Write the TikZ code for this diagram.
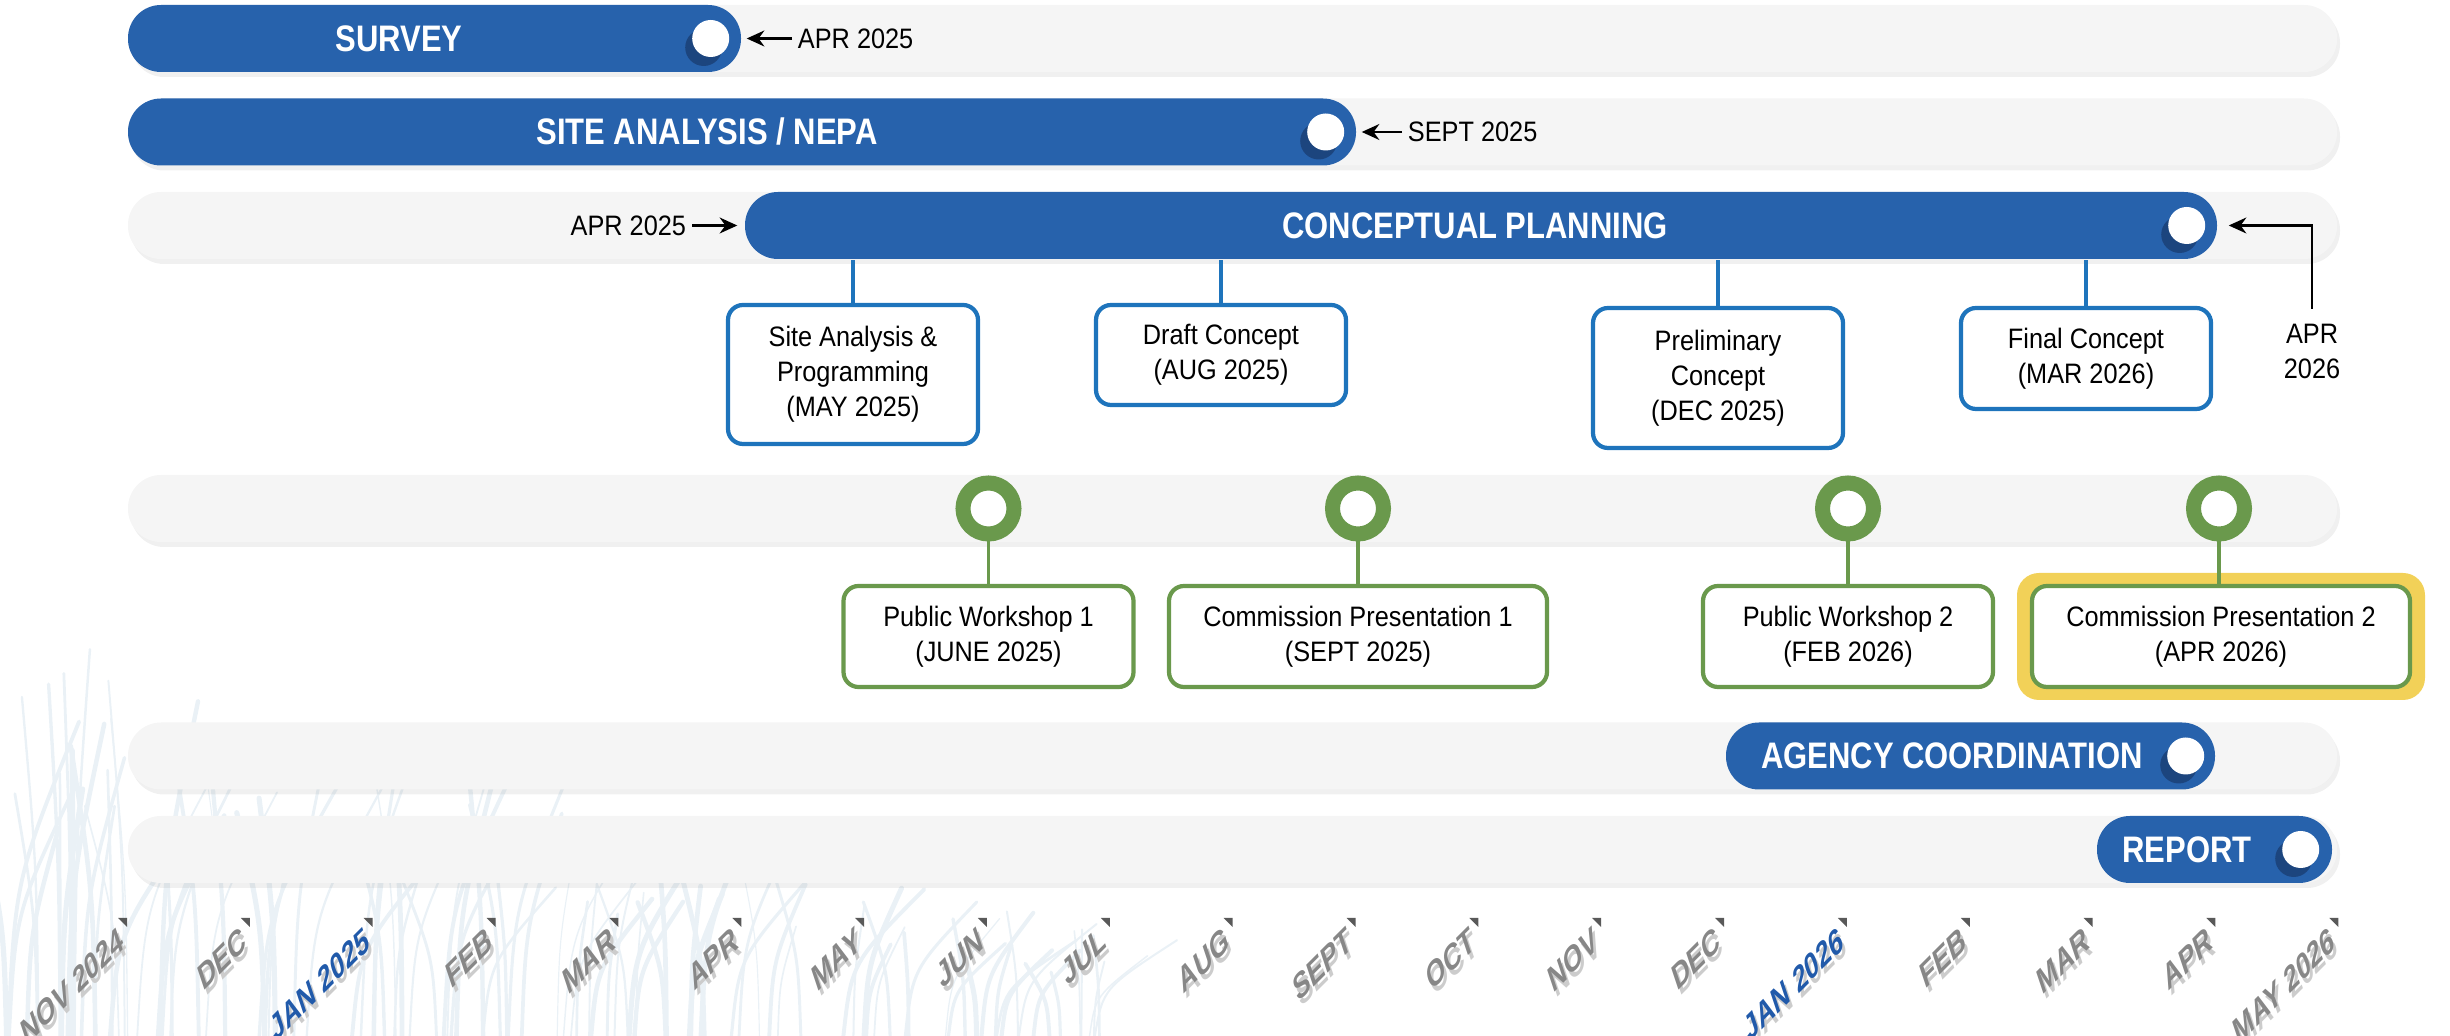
\documentclass[tikz,border=0pt]{standalone}
\usepackage{fontspec}
\setmainfont{Liberation Sans}[FakeStretch=0.9]
\newfontfamily\barfont{Liberation Sans}[FakeStretch=0.84]
\newfontfamily\monthfont{Liberation Sans}
\usetikzlibrary{shapes, positioning, arrows.meta, calc, shadows}

\definecolor{barblue}{RGB}{39,98,172}
\definecolor{deepblue}{RGB}{27,66,122}
\definecolor{boxblue}{RGB}{30,116,188}
\definecolor{trackgray}{RGB}{245,245,245}
\definecolor{msgreen}{RGB}{106,153,76}
\definecolor{hiyellow}{RGB}{242,209,88}
\definecolor{monthgray}{RGB}{135,135,135}
\definecolor{janblue}{RGB}{33,90,170}
\definecolor{brush}{RGB}{234,241,246}

\begin{document}
\begin{tikzpicture}[
    > = {Stealth[length=5pt, width=4.5pt]},
    track/.style = {rectangle, rounded corners=0.33cm, minimum width=22.09cm, minimum height=0.67cm, inner sep=0pt, fill=trackgray, drop shadow={shadow xshift=0.03cm, shadow yshift=-0.05cm, opacity=0.12}},
    bar/.style = {rectangle, rounded corners=0.33cm, minimum height=0.67cm, inner sep=0pt, fill=barblue},
    barlabel/.style = {text=white, font=\barfont\bfseries\fontsize{10.5}{12}\selectfont},
    knob/.style = {circle, fill=white, minimum size=0.37cm, inner sep=0pt, drop shadow={shadow xshift=-0.07cm, shadow yshift=-0.09cm, fill=deepblue, opacity=0.9}},
    datelabel/.style = {font=\fontsize{8}{10}\selectfont, inner sep=1.5pt, align=center},
    datearrow/.style = {->, line width=0.8pt, shorten >=0.05cm},
    bbox/.style = {rectangle, rounded corners=0.15cm, draw=boxblue, line width=1.2pt, fill=white, minimum width=2.5cm, align=center, font=\fontsize{8}{10}\selectfont},
    gbox/.style = {bbox, draw=msgreen, minimum height=1.01cm},
    bconn/.style = {boxblue, line width=1.1pt},
    gconn/.style = {msgreen, line width=1.1pt},
    ring/.style = {circle, draw=msgreen, line width=0.15cm, fill=white, minimum size=0.51cm, inner sep=0pt},
    hilite/.style = {rectangle, rounded corners=0.22cm, fill=hiyellow, minimum width=4.08cm, minimum height=1.27cm},
    month/.style = {anchor=north east, inner sep=0pt, rotate=45, xslant=0.5, font=\monthfont\bfseries\fontsize{8.5}{10}\selectfont},
    monthtick/.style = {fill=black!65},
    brushstroke/.style = {draw=brush, line cap=round}
]

\useasboundingbox (0,0) rectangle (24.5,10.36);

% 1. Faint brush texture behind the month scale
\pgfmathsetseed{42}
\foreach \i in {1,...,110} {
    \pgfmathsetmacro{\xa}{rnd*11}
    \pgfmathsetmacro{\ht}{(0.5+rnd*0.5)*(4.1-0.28*\xa)}
    \pgfmathsetmacro{\lean}{(rnd-0.3)*1.2}
    \pgfmathsetmacro{\lw}{0.3+rnd*1.2}
    \draw[brushstroke, line width=\lw pt] (\xa,0) .. controls (\xa+0.1*\lean,0.5*\ht) .. (\xa+\lean,\ht);
}

% 2. The gray tracks
\foreach \y/\n in {9.975/t1, 9.04/t2, 8.105/t3, 5.275/t4, 2.80/t5, 1.865/t6} {
    \node[track] (\n) at (12.325, \y) {};
}

% 3. Blue task bars with their knobs
\node[bar, minimum width=6.13cm] (survey) at (4.345, 9.975) {};
\node[bar, minimum width=12.28cm] (site) at (7.42, 9.04) {};
\node[bar, minimum width=14.72cm] (concept) at (14.81, 8.105) {};
\node[bar, minimum width=4.89cm] (agency) at (19.705, 2.80) {};
\node[bar, minimum width=2.35cm] (report) at (22.145, 1.865) {};

\node[knob] (survey-k) at ($(survey.east)+(-0.31,0)$) {};
\node[knob] (site-k) at ($(site.east)+(-0.31,0)$) {};
\node[knob] (concept-k) at ($(concept.east)+(-0.31,0)$) {};
\node[knob] (agency-k) at ($(agency.east)+(-0.30,0)$) {};
\node[knob] (report-k) at ($(report.east)+(-0.32,0)$) {};

\node[barlabel] (survey-t) at (3.99, 9.975) {SURVEY};
\node[barlabel] (site-t) at (7.07, 9.04) {SITE ANALYSIS / NEPA};
\node[barlabel] (concept-t) at (14.75, 8.105) {CONCEPTUAL PLANNING};
\node[barlabel] (agency-t) at (19.52, 2.80) {AGENCY COORDINATION};
\node[barlabel] (report-t) at (21.87, 1.865) {REPORT};

% 4. Start and end dates
\node[datelabel, anchor=west] (survey-d) at (7.92, 9.975) {APR 2025};
\node[datelabel, anchor=west] (site-d) at (14.02, 9.04) {SEPT 2025};
\node[datelabel, anchor=east] (concept-d) at (6.92, 8.105) {APR 2025};
\node[datelabel, anchor=north, inner sep=4pt] (concept-e) at (23.12, 7.27) {APR\\2026};

\draw[datearrow] (survey-d.west) -- (survey.east);
\draw[datearrow] (site-d.west) -- (site.east);
\draw[datearrow, shorten >=0.07cm] (concept-d.east) -- (concept.west);
\draw[datearrow, shorten >=0.11cm] (concept-e.north) |- (concept.east);

% 5. Planning deliverables
\node[bbox, minimum height=1.39cm] (site-b) at (8.53, 6.615) {Site Analysis \&\\Programming\\(MAY 2025)};
\node[bbox, minimum height=1.0cm] (draft-b) at (12.21, 6.81) {Draft Concept\\(AUG 2025)};
\node[bbox, minimum height=1.4cm] (prelim-b) at (17.18, 6.58) {Preliminary\\Concept\\(DEC 2025)};
\node[bbox, minimum height=1.01cm] (final-b) at (20.86, 6.775) {Final Concept\\(MAR 2026)};

\draw[bconn] (site-b.north) -- (site-b.north |- concept.south);
\draw[bconn] (draft-b.north) -- (draft-b.north |- concept.south);
\draw[bconn] (prelim-b.north) -- (prelim-b.north |- concept.south);
\draw[bconn] (final-b.north) -- (final-b.north |- concept.south);

% 6. Meetings on the milestone track
\node[hilite] (cp2-h) at (22.21, 3.995) {};

\node[ring] (pw1-r) at (9.885, 5.275) {};
\node[ring] (cp1-r) at (13.58, 5.275) {};
\node[ring] (pw2-r) at (18.48, 5.275) {};
\node[ring] (cp2-r) at (22.19, 5.275) {};

\node[gbox, minimum width=2.9cm] (pw1-b) at (9.885, 3.995) {Public Workshop 1\\(JUNE 2025)};
\node[gbox, minimum width=3.78cm] (cp1-b) at (13.58, 3.995) {Commission Presentation 1\\(SEPT 2025)};
\node[gbox, minimum width=2.9cm] (pw2-b) at (18.48, 3.995) {Public Workshop 2\\(FEB 2026)};
\node[gbox, minimum width=3.78cm] (cp2-b) at (22.21, 3.995) {Commission Presentation 2\\(APR 2026)};

\draw[gconn] (pw1-r.south) -- (pw1-b.north -| pw1-r.south);
\draw[gconn] (cp1-r.south) -- (cp1-b.north -| cp1-r.south);
\draw[gconn] (pw2-r.south) -- (pw2-b.north -| pw2-r.south);
\draw[gconn] (cp2-r.south) -- (cp2-b.north -| cp2-r.south);

% 7. Month scale
\foreach \m/\c [count=\k from 0] in {NOV 2024/monthgray, DEC/monthgray, JAN 2025/janblue, FEB/monthgray, MAR/monthgray, APR/monthgray, MAY/monthgray, JUN/monthgray, JUL/monthgray, AUG/monthgray, SEPT/monthgray, OCT/monthgray, NOV/monthgray, DEC/monthgray, JAN 2026/janblue, FEB/monthgray, MAR/monthgray, APR/monthgray, MAY 2026/monthgray} {
    \node[month, text=black!20] (m\k-s) at (1.22+\k*1.2285-0.01, 1.07) {\m};
    \node[month, text=\c] (m\k) at (1.22+\k*1.2285-0.04, 1.12) {\m};
    \fill[monthtick] (1.22+\k*1.2285-0.04, 1.18) -- ++(0.09,0) -- ++(0,-0.09) -- cycle;
}

\end{tikzpicture}
\end{document}
